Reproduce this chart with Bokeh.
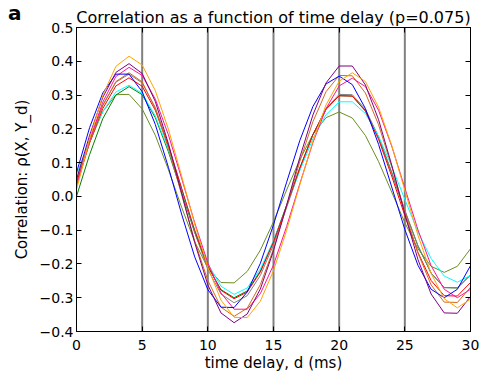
from bokeh.plotting import figure
from bokeh.models import Span, FixedTicker, LinearAxis, Range1d
from bokeh.embed import file_html
from bokeh.resources import INLINE

# ---- data ----
delays = list(range(31))  # time delay d (ms)

olive = [0.040, 0.160, 0.251, 0.301, 0.302, 0.259, 0.181, 0.079, -0.032, -0.134, -0.212, -0.255, -0.256, -0.222, -0.159, -0.075, 0.019, 0.109, 0.183, 0.233, 0.250, 0.232, 0.180, 0.103, 0.013, -0.078, -0.155, -0.207, -0.225, -0.207, -0.155]
green = [0.000, 0.124, 0.230, 0.300, 0.325, 0.301, 0.233, 0.132, 0.013, -0.107, -0.208, -0.276, -0.300, -0.280, -0.221, -0.133, -0.026, 0.084, 0.183, 0.258, 0.298, 0.297, 0.254, 0.174, 0.070, -0.043, -0.147, -0.227, -0.270, -0.271, -0.233]
gray = [0.050, 0.169, 0.271, 0.338, 0.362, 0.336, 0.263, 0.153, 0.024, -0.106, -0.216, -0.289, -0.315, -0.294, -0.234, -0.143, -0.033, 0.081, 0.183, 0.260, 0.302, 0.301, 0.258, 0.177, 0.072, -0.041, -0.146, -0.227, -0.270, -0.271, -0.232]
cyan = [0.064, 0.165, 0.251, 0.309, 0.329, 0.305, 0.238, 0.138, 0.020, -0.099, -0.199, -0.266, -0.290, -0.271, -0.215, -0.131, -0.029, 0.076, 0.171, 0.242, 0.280, 0.280, 0.245, 0.178, 0.089, -0.009, -0.105, -0.184, -0.236, -0.254, -0.234]
red = [0.040, 0.159, 0.260, 0.327, 0.351, 0.326, 0.255, 0.149, 0.024, -0.101, -0.207, -0.278, -0.303, -0.283, -0.224, -0.135, -0.028, 0.083, 0.183, 0.258, 0.298, 0.297, 0.252, 0.169, 0.060, -0.057, -0.166, -0.249, -0.294, -0.295, -0.255]
chocolate = [0.030, 0.159, 0.268, 0.340, 0.366, 0.339, 0.260, 0.143, 0.006, -0.132, -0.249, -0.328, -0.355, -0.331, -0.261, -0.156, -0.029, 0.103, 0.221, 0.310, 0.358, 0.357, 0.306, 0.212, 0.089, -0.045, -0.168, -0.262, -0.313, -0.314, -0.269]
deeppink = [0.030, 0.165, 0.279, 0.355, 0.382, 0.358, 0.288, 0.182, 0.054, -0.078, -0.197, -0.286, -0.334, -0.334, -0.288, -0.203, -0.089, 0.037, 0.159, 0.260, 0.327, 0.350, 0.325, 0.255, 0.149, 0.025, -0.099, -0.205, -0.275, -0.300, -0.275]
blue = [0.070, 0.204, 0.306, 0.362, 0.362, 0.310, 0.213, 0.086, -0.052, -0.179, -0.276, -0.328, -0.329, -0.283, -0.198, -0.084, 0.042, 0.165, 0.266, 0.333, 0.356, 0.331, 0.260, 0.154, 0.028, -0.098, -0.204, -0.275, -0.300, -0.275, -0.205]
purple = [0.050, 0.181, 0.293, 0.367, 0.393, 0.364, 0.281, 0.156, 0.010, -0.137, -0.262, -0.345, -0.374, -0.348, -0.274, -0.161, -0.026, 0.115, 0.241, 0.336, 0.386, 0.386, 0.330, 0.227, 0.093, -0.052, -0.187, -0.289, -0.345, -0.346, -0.296]
orange = [0.020, 0.171, 0.299, 0.385, 0.415, 0.389, 0.313, 0.199, 0.061, -0.082, -0.210, -0.307, -0.358, -0.359, -0.310, -0.220, -0.100, 0.034, 0.163, 0.271, 0.341, 0.366, 0.340, 0.264, 0.151, 0.018, -0.115, -0.228, -0.303, -0.330, -0.304]

series = [
    ("#6B8E23", olive),
    ("#008000", green),
    ("#808080", gray),
    ("#00FFFF", cyan),
    ("#FF0000", red),
    ("#D2691E", chocolate),
    ("#FF1493", deeppink),
    ("#0000FF", blue),
    ("#800080", purple),
    ("#FFA500", orange),
]

vline_delays = [5, 10, 15, 20, 25]

x_ticks = [0, 5, 10, 15, 20, 25, 30]
x_tick_labels = ["0", "5", "10", "15", "20", "25", "30"]
y_ticks = [-0.4, -0.3, -0.2, -0.1, 0.0, 0.1, 0.2, 0.3, 0.4, 0.5]
y_tick_labels = ["\u22120.4", "\u22120.3", "\u22120.2", "\u22120.1", "0.0", "0.1", "0.2", "0.3", "0.4", "0.5"]

title_text = "Correlation as a function of time delay (p=0.075)"
panel_letter = "a"
panel_letter_at = [0.5]
x_label = "time delay, d (ms)"
y_label = "Correlation: \u03c1(X, Y_d)"

FONT = "DejaVu Sans"

p = figure(width=480, height=374, output_backend="svg", toolbar_location=None,
           x_range=Range1d(0, 30), y_range=Range1d(-0.4, 0.5),
           min_border_left=76, min_border_right=10, min_border_top=27, min_border_bottom=40)
p.xgrid.visible = False
p.ygrid.visible = False
p.outline_line_color = "black"
p.outline_line_width = 1
p.background_fill_color = "white"
p.border_fill_color = "white"

p.title.text = title_text
p.title.align = "center"
p.title.text_font = FONT
p.title.text_font_size = "16px"
p.title.text_font_style = "normal"
p.title.text_color = "black"
p.title.standoff = 2
p.title.offset = 0

for xv in vline_delays:
    p.add_layout(Span(location=xv, dimension="height", line_color="#808080",
                      line_width=2, level="underlay"))

for color, vals in series:
    p.line(delays, vals, line_color=color, line_width=1)

def style_axis(ax, ticks, labels, show_labels=True):
    ax.ticker = FixedTicker(ticks=ticks)
    ax.major_label_overrides = {t: l for t, l in zip(ticks, labels)}
    ax.major_tick_in = 5
    ax.major_tick_out = 0
    ax.minor_tick_line_color = None
    ax.axis_line_color = "black"
    ax.major_tick_line_color = "black"
    ax.major_label_text_font = FONT
    ax.major_label_text_color = "black"
    if show_labels:
        ax.major_label_text_font_size = "14px"
        ax.major_label_standoff = 4
    else:
        ax.major_label_text_font_size = "0px"
        ax.major_label_standoff = 0

style_axis(p.xaxis[0], x_ticks, x_tick_labels)
style_axis(p.yaxis[0], y_ticks, y_tick_labels)
p.xaxis[0].major_label_standoff = 8
p.yaxis[0].major_label_standoff = 3

p.xaxis[0].axis_label = x_label
p.yaxis[0].axis_label = y_label
for ax in (p.xaxis[0], p.yaxis[0]):
    ax.axis_label_text_font = FONT
    ax.axis_label_text_font_size = "15px"
    ax.axis_label_text_font_style = "normal"
    ax.axis_label_text_color = "black"
p.xaxis[0].axis_label_standoff = 1
p.yaxis[0].axis_label_standoff = 6

top_ax = LinearAxis()
style_axis(top_ax, x_ticks, ["" for _ in x_ticks], show_labels=False)
p.add_layout(top_ax, "above")
right_ax = LinearAxis()
style_axis(right_ax, y_ticks, ["" for _ in y_ticks], show_labels=False)
p.add_layout(right_ax, "right")

# panel letter "a": an outer, line-less left axis carrying one bold label
letter_ax = LinearAxis(ticker=FixedTicker(ticks=panel_letter_at),
                       major_label_overrides={panel_letter_at[0]: panel_letter + "\n "})
letter_ax.axis_line_color = None
letter_ax.major_tick_line_color = None
letter_ax.minor_tick_line_color = None
letter_ax.major_tick_in = 0
letter_ax.major_tick_out = 0
letter_ax.major_label_standoff = -12
letter_ax.major_label_text_font = FONT
letter_ax.major_label_text_font_size = "20px"
letter_ax.major_label_text_font_style = "bold"
letter_ax.major_label_text_color = "black"
p.add_layout(letter_ax, "left")

open("out.html", "w").write(file_html(p, INLINE))
